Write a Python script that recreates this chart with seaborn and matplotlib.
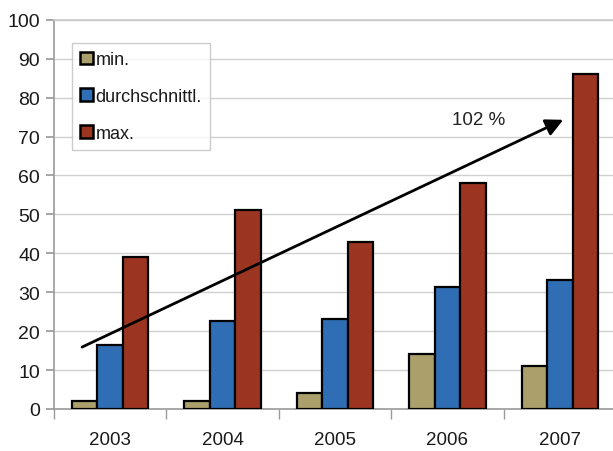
import matplotlib
matplotlib.use("Agg")
import matplotlib.pyplot as plt
from matplotlib.patches import Patch
import seaborn as sns
import pandas as pd

# Jahreswerte je Kennzahl
jahre = ["2003", "2004", "2005", "2006", "2007"]
serien = ["min.", "durchschnittl.", "max."]
werte_min = [2, 2, 4, 14, 11]
werte_avg = [16.4, 22.7, 23.2, 31.3, 33.2]
werte_max = [39, 51, 43, 58, 86]
y_ticks = list(range(0, 101, 10))
farben = ["#aba06b", "#2f6db5", "#9b3522"]
pfeil_text = "102 %"

df = pd.DataFrame({
    "Jahr": jahre * 3,
    "Serie": [serien[0]] * 5 + [serien[1]] * 5 + [serien[2]] * 5,
    "Wert": werte_min + werte_avg + werte_max,
})

sns.set_theme(style="white")
plt.rcParams["font.family"] = ["Liberation Sans", "DejaVu Sans"]
plt.rcParams["text.color"] = "#1a1a1a"
plt.rcParams["xtick.labelcolor"] = "#1a1a1a"
plt.rcParams["ytick.labelcolor"] = "#1a1a1a"

fig = plt.figure(figsize=(6.13, 4.52), dpi=100)
ax = fig.add_axes([0.088, 0.093, 0.917, 0.861])

sns.barplot(data=df, x="Jahr", y="Wert", hue="Serie", order=jahre,
            hue_order=serien, palette=farben, width=0.68, saturation=1,
            edgecolor="black", linewidth=1.6, ax=ax, legend=False, zorder=3)

ax.set_xlim(-0.5, 4.5)
ax.set_ylim(0, 100)
ax.set_yticks(y_ticks)
ax.set_xlabel("")
ax.set_ylabel("")

ax.yaxis.grid(True, color="#d0d0d0", linewidth=1.0, zorder=0)
ax.set_axisbelow(True)

for name in ["left", "bottom", "top"]:
    ax.spines[name].set_color("#9a9a9a")
    ax.spines[name].set_linewidth(1.2)
ax.spines["top"].set_color("#c8c8c8")
ax.spines["right"].set_visible(False)

ax.tick_params(axis="y", which="major", direction="out", length=6,
               color="#9a9a9a", labelsize=14, pad=4, left=True)
ax.tick_params(axis="x", which="major", length=0, labelsize=13.5, pad=16)
ax.set_xticks([i + 0.5 for i in range(-1, 5)], minor=True)
ax.tick_params(axis="x", which="minor", direction="out", length=7,
               color="#9a9a9a", bottom=True)

# Trendpfeil vom ersten zum letzten Jahr
ax.annotate("", xy=(4.03, 74.3), xytext=(-0.25, 15.9),
            xycoords="data", textcoords="data",
            arrowprops=dict(arrowstyle="-|>", mutation_scale=26, lw=2,
                            color="black", shrinkA=0, shrinkB=0), zorder=5)
ax.text(3.28, 74.3, pfeil_text, ha="center", va="center", fontsize=13.5,
        color="#222222", zorder=6)

handles = [Patch(facecolor=c, edgecolor="black", linewidth=1.8, label=s)
           for c, s in zip(farben, serien)]
leg = ax.legend(handles=handles, loc="upper left",
                bbox_to_anchor=(0.032, 0.94), fontsize=13, frameon=True,
                fancybox=False, edgecolor="#c0c0c0", handlelength=0.7,
                handleheight=0.7, handletextpad=0.15, labelspacing=1.1,
                borderpad=0.45, borderaxespad=0)
leg.get_frame().set_linewidth(1.0)

fig.savefig("out.png", dpi=100)
